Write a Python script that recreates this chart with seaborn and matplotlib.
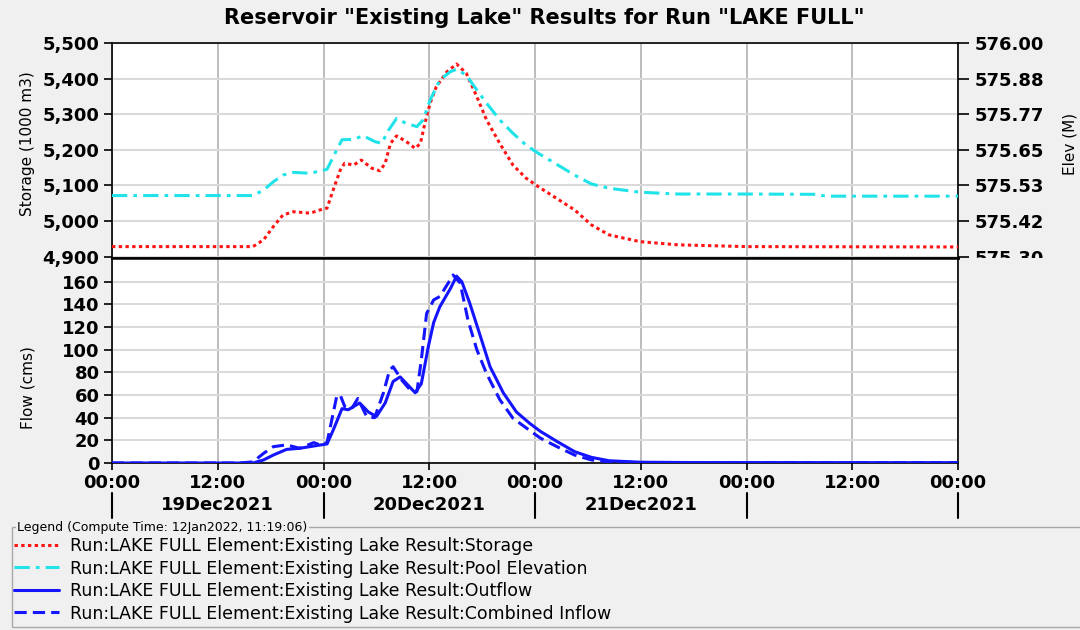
import pandas as pd
import numpy as np
import matplotlib.pyplot as plt
import seaborn as sns
from matplotlib.transforms import Bbox, TransformedBbox
from matplotlib.patches import Rectangle

# hours since 19Dec2021 00:00
storage_hours = [0, 16.0, 17.2, 18.3, 19.4, 20.6, 22.5, 23.6, 24.4, 25.1, 25.9, 26.4, 27.4, 28.3,
                 29.5, 30.4, 31.0, 31.6, 32.3, 33.4, 34.4, 35.0, 35.5, 36.1, 36.8, 38.0, 39.1,
                 40.2, 41.4, 42.5, 44.0, 45.5, 47.0, 48.4, 52.5, 54.4, 56.4, 59.9, 64.2, 72.0, 96.0]
storage_values = [4928, 4928, 4947, 4984, 5017, 5026, 5022, 5031, 5036, 5087, 5143, 5162, 5157, 5171,
                  5148, 5141, 5162, 5218, 5239, 5223, 5204, 5218, 5274, 5331, 5377, 5419, 5441,
                  5415, 5349, 5284, 5218, 5157, 5120, 5096, 5031, 4989, 4961, 4942, 4933, 4928, 4927]

elev_hours = [0, 16.0, 17.2, 18.3, 19.4, 20.6, 22.5, 24.4, 25.3, 26.1, 27.4, 28.5, 29.8, 30.6,
              31.4, 32.3, 33.4, 34.6, 35.3, 36.1, 37.2, 38.4, 39.1, 40.2, 41.4, 42.5, 44.0,
              45.5, 47.0, 48.4, 52.5, 54.4, 56.4, 59.9, 64.2, 72.0, 79.8, 81.0, 96.0]
elev_values = [575.500, 575.500, 575.518, 575.545, 575.567, 575.576, 575.573, 575.586, 575.638,
               575.683, 575.684, 575.696, 575.677, 575.671, 575.715, 575.753, 575.736, 575.726,
               575.748, 575.813, 575.879, 575.906, 575.914, 575.895, 575.846, 575.803, 575.748,
               575.704, 575.665, 575.638, 575.567, 575.538, 575.524, 575.511, 575.505, 575.505,
               575.504, 575.498, 575.498]

outflow_hours = [0, 16.0, 17.2, 18.3, 19.8, 21.3, 22.9, 24.4, 25.1, 26.1, 26.8, 28.1, 29.1, 30.0,
                 31.0, 31.9, 32.7, 33.8, 34.4, 35.1, 35.9, 36.5, 37.2, 38.4, 39.1, 39.7, 40.6,
                 41.8, 42.9, 44.4, 45.9, 47.4, 48.6, 50.5, 52.5, 54.4, 56.4, 59.9, 66.0, 96.0]
outflow_values = [0, 0, 2.7, 7, 12, 13, 15, 16.8, 29, 48, 47, 53, 45, 41,
                  53, 72, 76, 67, 62, 70, 103, 124, 138, 154, 165, 160, 141,
                  112, 85, 62, 45, 35, 28, 19, 10, 5, 2, 0.7, 0.4, 0.3]

inflow_hours = [0, 14.5, 16.0, 17.2, 18.3, 19.8, 21.3, 22.9, 23.6, 24.4, 25.1, 25.5, 25.9, 26.4,
                27.2, 27.9, 28.9, 29.8, 30.8, 31.5, 31.9, 32.9, 34.0, 34.6, 35.1, 35.7, 36.5,
                37.2, 38.4, 38.7, 39.5, 40.4, 41.4, 42.5, 44.0, 45.5, 47.0, 48.6, 50.5, 52.5,
                54.4, 56.4, 60.0, 96.0]
inflow_values = [0, 0, 1, 8.5, 14.4, 16, 13, 18, 16, 18, 44, 59, 60, 50,
                 48, 57, 41, 40, 62, 82, 85, 73, 63, 63, 91, 132, 144,
                 147, 162, 166, 159, 126, 100, 79, 56, 39.5, 31, 22, 14.4, 7,
                 2.7, 1, 0.4, 0.3]

storage_ticks = [4900, 5000, 5100, 5200, 5300, 5400, 5500]
elev_ticks = [575.30, 575.4167, 575.5333, 575.65, 575.7667, 575.8833, 576.00]
flow_ticks = [0, 20, 40, 60, 80, 100, 120, 140, 160]
time_ticks = [0, 12, 24, 36, 48, 60, 72, 84, 96]
time_labels = ['00:00', '12:00'] * 4 + ['00:00']
day_starts = [0, 24, 48, 72, 96]
day_labels = ['19Dec2021', '20Dec2021', '21Dec2021']

legend_labels = ['Run:LAKE FULL Element:Existing Lake Result:Storage',
                 'Run:LAKE FULL Element:Existing Lake Result:Pool Elevation',
                 'Run:LAKE FULL Element:Existing Lake Result:Outflow',
                 'Run:LAKE FULL Element:Existing Lake Result:Combined Inflow']

sns.set_theme(style='white')
plt.rcParams['font.family'] = ['DejaVu Sans']
plt.rcParams['text.color'] = 'black'

BG = '#f0f0f0'
fig = plt.figure(figsize=(10.8, 6.3), dpi=100, facecolor=BG)
L, R = 112 / 1080, 958 / 1080
ax_top = fig.add_axes([L, 1 - 258 / 630, R - L, 215 / 630])
ax_bot = fig.add_axes([L, 1 - 463 / 630, R - L, 205 / 630])
ax_el = ax_top.twinx()

# storage on left axis, elevation on right axis
storage_lim = (4896, 5500)
elev_lim = tuple(575.30 + (s - 4900) * 0.7 / 600 for s in storage_lim)

sns.lineplot(x=storage_hours, y=storage_values, ax=ax_top, color='#ff1414', lw=2.2,
             linestyle=(0, (1.1, 1.1)), zorder=3)
sns.lineplot(x=elev_hours, y=elev_values, ax=ax_el, color='#1fe3e8', lw=2.2,
             linestyle=(0, (5, 2, 1.2, 2)), zorder=3)
sns.lineplot(x=outflow_hours, y=outflow_values, ax=ax_bot, color='#1414ff', lw=2.2, zorder=3)
sns.lineplot(x=inflow_hours, y=inflow_values, ax=ax_bot, color='#1414ff', lw=2.2,
             linestyle=(0, (4, 2)), zorder=3)

for ax in (ax_top, ax_bot):
    ax.set_facecolor('white')
    ax.set_xlim(0, 96)
    ax.set_xticks(time_ticks)
    ax.set_axisbelow(True)
    ax.grid(axis='x', color='#b8b8b8', lw=1.3)
    ax.grid(axis='y', color='#dadada', lw=1.5)
    for s in ax.spines.values():
        s.set_color('black')
        s.set_linewidth(1.2)

ax_top.spines['bottom'].set_linewidth(1.8)
ax_bot.spines['top'].set_linewidth(1.8)

ax_top.set_ylim(*storage_lim)
ax_top.set_yticks(storage_ticks)
ax_top.set_yticklabels([f'{v:,}' for v in storage_ticks], fontweight='bold')
ax_top.tick_params(axis='x', length=0, labelbottom=False)
ax_top.tick_params(axis='y', left=True, direction='out', length=6, width=1.2, color='black',
                   labelsize=13, pad=3, labelcolor='black')

ax_el.set_ylim(*elev_lim)
ax_el.set_yticks(elev_ticks)
ax_el.set_yticklabels([f'{v:.2f}' for v in elev_ticks], fontweight='bold')
ax_el.tick_params(axis='y', right=True, direction='out', length=8, width=1.2, color='black',
                  labelsize=13, pad=4, labelcolor='black')
for s in ax_el.spines.values():
    s.set_visible(False)

ax_bot.set_ylim(0, 181)
ax_bot.set_yticks(flow_ticks)
ax_bot.set_yticklabels([str(v) for v in flow_ticks], fontweight='bold')
ax_bot.set_xticklabels(time_labels, fontweight='bold')
ax_bot.tick_params(axis='y', left=True, direction='out', length=6, width=1.2, color='black',
                   labelsize=13, pad=3, labelcolor='black')
ax_bot.tick_params(axis='x', bottom=True, direction='out', length=5, width=1.2, color='black',
                   labelsize=13, pad=3, labelcolor='black')

# date row under the time labels
xt = ax_bot.get_xaxis_transform()
for h in day_starts:
    ax_bot.plot([h, h], [-0.145, -0.27], transform=xt, color='black', lw=1.5, clip_on=False)
for h, lab in zip(day_starts, day_labels):
    ax_bot.text(h + 12, -0.205, lab, transform=xt, ha='center', va='center',
                fontweight='bold', fontsize=13, color='black')

ax_top.set_ylabel('Storage (1000 m3)', fontsize=11, color='black')
ax_top.yaxis.set_label_coords(-0.091, 0.53)
ax_bot.set_ylabel('Flow (cms)', fontsize=11, color='black')
ax_bot.yaxis.set_label_coords(-0.091, 0.366)
ax_el.set_ylabel('Elev (M)', fontsize=11, color='black')
ax_el.yaxis.set_label_coords(1.124, 0.53)
ax_top.set_xlabel('')
ax_bot.set_xlabel('')

# the lowest elevation label is cut by the lower panel
clip = TransformedBbox(Bbox([[0, 1 - 258 / 630], [1, 1]]), fig.transFigure)
lab0 = ax_el.yaxis.get_major_ticks()[0].label2
lab0.set_clip_box(clip)
lab0.set_clip_on(True)

fig.text(0.504, 1 - 18 / 630, 'Reservoir "Existing Lake" Results for Run "LAKE FULL"',
         ha='center', va='center', fontweight='bold', fontsize=15, color='black')

# legend group box
fig.patches.append(Rectangle((12 / 1080, 1 - 627 / 630), 1080 / 1080, 100 / 630,
                             transform=fig.transFigure, fill=False, edgecolor='#a8a8a8', lw=1))
fig.text(17 / 1080, 1 - 527 / 630, 'Legend (Compute Time: 12Jan2022, 11:19:06)', fontsize=9,
         ha='left', va='center', color='black',
         bbox=dict(facecolor=BG, edgecolor='none', pad=1))
handles = [ax_top.lines[0], ax_el.lines[0], ax_bot.lines[0], ax_bot.lines[1]]
leg = fig.legend(handles, legend_labels, loc='upper left', bbox_to_anchor=(14 / 1080, 1 - 537 / 630),
                 frameon=False, fontsize=12.5, handlelength=2.6, handletextpad=0.6,
                 labelspacing=0.26, borderaxespad=0, borderpad=0)
for t in leg.get_texts():
    t.set_color('black')

fig.savefig('out.png', dpi=100, facecolor=BG)
